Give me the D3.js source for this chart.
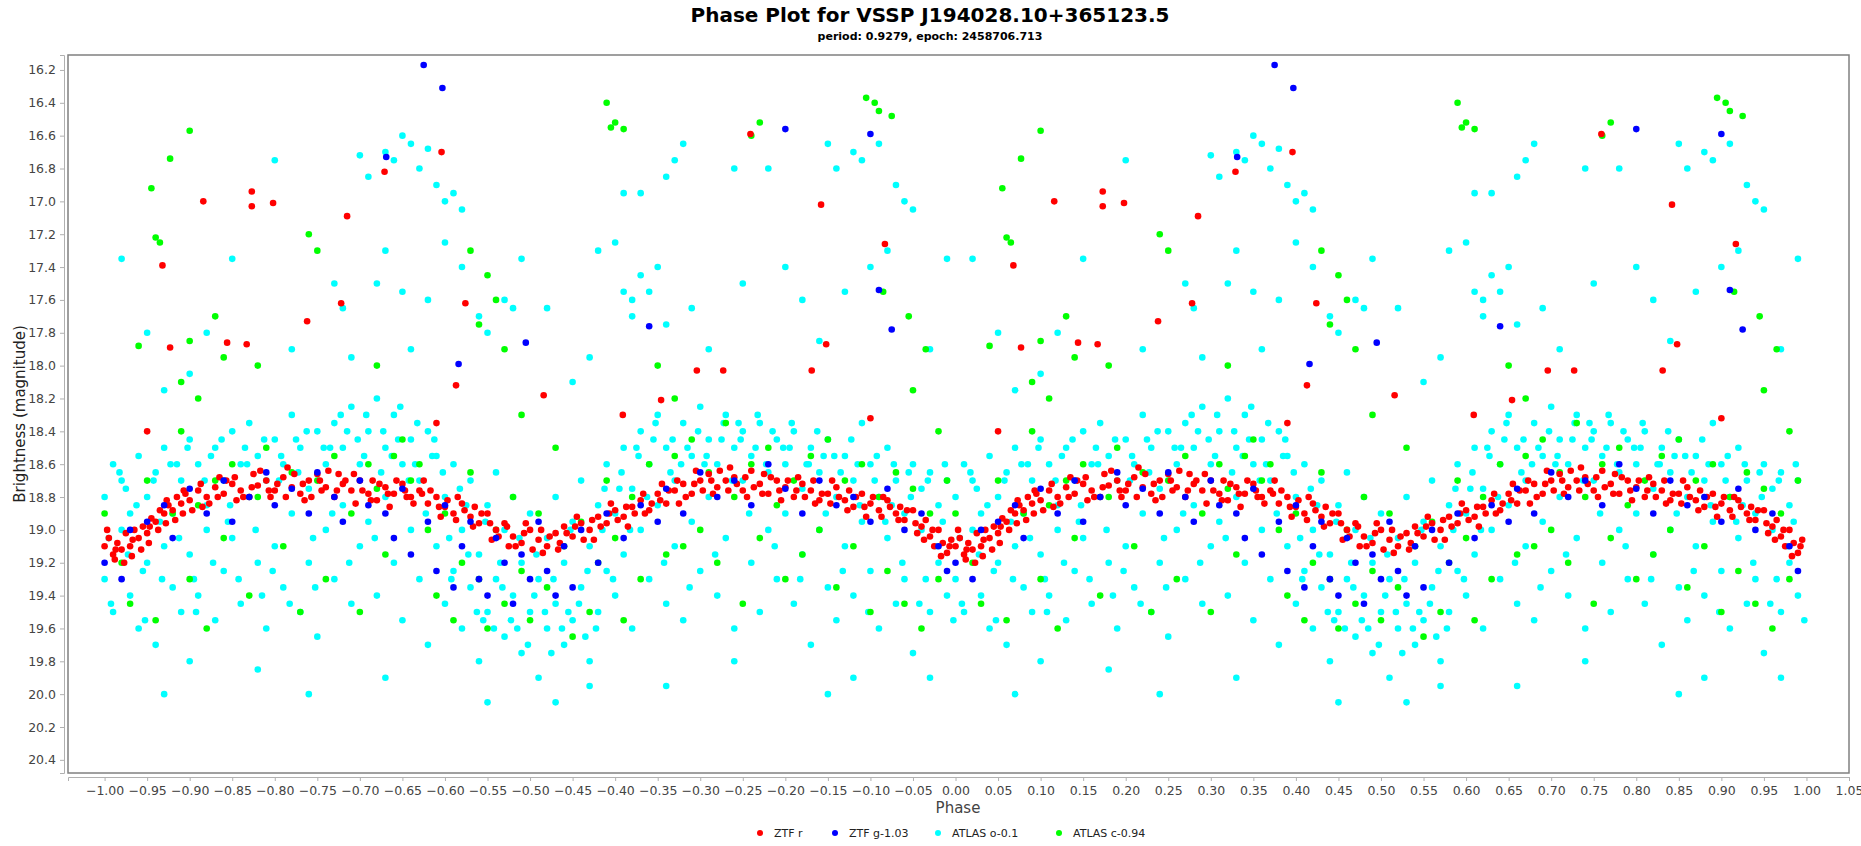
<!DOCTYPE html>
<html>
<head>
<meta charset="utf-8">
<title>Phase Plot</title>
<script src="https://cdn.jsdelivr.net/npm/d3@7"></script>
<style>
  body { margin: 0; background: #fff; }
  text { font-family: "DejaVu Sans", sans-serif; }
</style>
</head>
<body>
<svg id="chart" width="1861" height="846"></svg>
<script>
// phase in [0,1), magnitude; every point is drawn at phase and phase-1
const ztfR = [
  [0.00,19.10],[0.005,19.05],[0.01,19.15],[0.015,19.08],[0.02,19.12],[0.025,19.02],[0.03,19.10],[0.035,19.0],[0.04,19.05],[0.045,18.98],
  [0.05,19.02],[0.055,18.93],[0.06,18.95],[0.065,18.88],[0.07,18.9],[0.075,18.85],[0.08,18.88],[0.085,18.80],[0.09,18.84],[0.095,18.78],
  [0.10,18.82],[0.11,18.76],[0.12,18.80],[0.13,18.74],[0.14,18.78],[0.15,18.72],[0.16,18.76],[0.17,18.80],[0.18,18.73],[0.19,18.70],
  [0.20,18.76],[0.21,18.68],[0.22,18.74],[0.23,18.78],[0.24,18.70],[0.25,18.66],[0.26,18.74],[0.27,18.80],[0.28,18.72],[0.29,18.76],
  [0.30,18.70],[0.31,18.78],[0.32,18.82],[0.33,18.74],[0.34,18.78],[0.35,18.72],[0.36,18.80],[0.37,18.76],[0.38,18.84],[0.39,18.80],
  [0.40,18.86],[0.41,18.90],[0.42,18.84],[0.43,18.92],[0.44,18.96],[0.45,18.90],[0.46,19.0],[0.47,18.96],[0.48,19.04],[0.49,19.08],
  [0.50,19.0],[0.51,19.06],[0.52,19.1],[0.53,19.02],[0.54,18.98],[0.55,19.04],[0.56,18.96],[0.57,19.0],[0.58,18.92],[0.59,18.96],
  [0.60,18.88],[0.61,18.92],[0.62,18.86],[0.63,18.82],[0.64,18.88],[0.65,18.78],[0.66,18.84],[0.67,18.76],[0.68,18.72],[0.69,18.78],
  [0.70,18.70],[0.71,18.66],[0.72,18.74],[0.73,18.70],[0.74,18.68],[0.75,18.76],[0.76,18.64],[0.77,18.72],[0.78,18.78],[0.79,18.70],
  [0.80,18.74],[0.81,18.80],[0.82,18.72],[0.83,18.76],[0.84,18.82],[0.85,18.78],[0.86,18.74],[0.87,18.82],[0.88,18.86],[0.89,18.78],
  [0.90,18.84],[0.91,18.88],[0.92,18.82],[0.93,18.90],[0.94,18.94],[0.95,18.88],[0.96,18.98],[0.97,19.04],[0.975,19.10],[0.98,19.0],
  [0.985,19.08],[0.99,19.14],[0.995,19.06],
  [0.012,19.18],[0.032,19.16],[0.052,19.08],[0.072,18.96],[0.092,18.9],[0.115,18.86],[0.135,18.68],[0.155,18.82],[0.175,18.66],[0.195,18.8],
  [0.215,18.62],[0.235,18.82],[0.255,18.76],[0.275,18.66],[0.295,18.84],[0.315,18.7],[0.335,18.86],[0.355,18.8],[0.375,18.7],[0.395,18.92],
  [0.415,18.8],[0.435,18.86],[0.455,19.06],[0.475,19.1],[0.495,18.96],[0.515,19.14],[0.535,19.08],[0.555,18.92],[0.575,19.06],[0.595,18.84],
  [0.615,18.98],[0.635,18.9],[0.655,18.72],[0.675,18.84],[0.695,18.64],[0.715,18.78],[0.735,18.62],[0.755,18.8],[0.775,18.66],[0.795,18.82],
  [0.815,18.68],[0.835,18.84],[0.855,18.70],[0.875,18.76],[0.895,18.92],[0.915,18.8],[0.935,18.86],[0.955,19.02],[0.965,18.94],
  [0.003,19.0],[0.013,19.12],[0.023,19.2],[0.033,19.06],[0.043,19.12],[0.053,18.98],[0.063,19.0],[0.073,18.82],[0.083,18.94],[0.093,18.76],
  [0.103,18.88],[0.113,18.72],[0.123,18.84],[0.133,18.8],[0.143,18.7],[0.153,18.68],[0.163,18.8],[0.173,18.74],[0.183,18.64],[0.193,18.76],
  [0.203,18.72],[0.213,18.8],[0.223,18.66],[0.233,18.72],[0.243,18.8],[0.253,18.7],[0.263,18.64],[0.273,18.76],[0.283,18.7],[0.293,18.66],
  [0.303,18.76],[0.313,18.82],[0.323,18.72],[0.333,18.78],[0.343,18.7],[0.353,18.76],[0.363,18.84],[0.373,18.78],[0.383,18.76],[0.393,18.86],
  [0.403,18.82],[0.413,18.94],[0.423,18.88],[0.433,18.98],[0.443,18.9],[0.453,18.96],[0.463,19.04],[0.473,18.98],[0.483,19.1],[0.493,19.02],
  [0.503,19.12],[0.513,19.0],[0.523,19.04],[0.533,19.12],[0.543,19.02],[0.553,18.98],[0.563,19.06],[0.573,18.94],[0.583,18.98],[0.593,18.9],
  [0.603,18.94],[0.613,18.86],[0.623,18.9],[0.633,18.78],[0.643,18.84],[0.653,18.82],[0.663,18.76],[0.673,18.7],[0.683,18.8],[0.693,18.72],
  [0.703,18.76],[0.713,18.7],[0.723,18.64],[0.733,18.76],[0.743,18.72],[0.753,18.68],[0.763,18.74],[0.773,18.78],[0.783,18.68],[0.793,18.76],
  [0.803,18.7],[0.813,18.76],[0.823,18.8],[0.833,18.7],[0.843,18.78],[0.853,18.84],[0.863,18.8],[0.873,18.88],[0.883,18.8],[0.893,18.86],
  [0.903,18.8],[0.913,18.92],[0.923,18.86],[0.933,18.94],[0.943,18.88],[0.953,18.96],[0.963,19.06],[0.973,19.0],[0.983,19.16],[0.993,19.1],
  [0.077,17.89],[0.068,17.39],[0.116,17.0],[0.173,16.94],[0.173,17.03],[0.198,17.01],[0.238,17.73],[0.278,17.62],[0.285,17.09],[0.329,16.82],
  [0.396,16.7],[0.413,18.12],[0.424,17.62],[0.144,17.86],[0.167,17.87],[0.516,18.18],[0.759,16.59],[0.848,17.87],[0.842,17.02],[0.917,17.26],
  [0.9,18.32],[0.831,18.03],[0.727,18.03],[0.696,18.03],[0.654,18.21],[0.609,18.3],[0.05,18.4],[0.39,18.35]
];

const ztfG = [
  [0.00,19.2],[0.02,19.3],[0.03,19.0],[0.05,18.95],[0.07,18.85],[0.08,19.05],[0.10,18.75],[0.12,18.9],[0.14,18.7],[0.15,18.95],
  [0.17,18.8],[0.19,18.65],[0.20,18.85],[0.22,18.75],[0.24,18.9],[0.25,18.65],[0.27,18.8],[0.28,18.95],[0.30,18.7],[0.31,18.85],
  [0.33,18.9],[0.34,19.05],[0.35,18.75],[0.36,19.15],[0.38,18.95],[0.39,19.25],[0.40,18.85],[0.41,19.35],[0.42,19.1],[0.43,18.95],
  [0.44,19.3],[0.45,19.4],[0.46,19.05],[0.47,19.2],[0.48,19.45],[0.49,19.15],[0.50,19.3],[0.51,18.95],[0.52,19.25],[0.53,19.4],
  [0.54,19.1],[0.55,19.35],[0.56,19.0],[0.58,19.2],[0.59,18.9],[0.61,19.05],[0.63,18.85],[0.65,18.95],[0.66,18.75],[0.68,18.9],
  [0.70,18.65],[0.72,18.8],[0.74,18.7],[0.76,18.85],[0.78,18.6],[0.80,18.75],[0.82,18.9],[0.84,18.7],[0.86,18.85],[0.88,18.8],
  [0.90,18.95],[0.92,18.75],[0.94,19.0],[0.96,18.9],[0.98,19.1],[0.99,19.25],
  [0.375,16.17],[0.397,16.31],[0.331,16.73],[0.80,16.56],[0.90,16.59],[0.91,17.54],[0.925,17.78],[0.64,17.76],[0.495,17.86],[0.416,17.99]
];

const atlasO = [
  [0.00,18.8],[0.00,19.3],[0.01,18.6],[0.01,19.5],[0.02,19.0],[0.02,18.7],[0.03,19.4],[0.03,18.9],[0.04,19.6],[0.04,18.55],
  [0.05,19.2],[0.05,18.8],[0.06,19.7],[0.06,18.65],[0.07,19.1],[0.07,18.5],[0.08,19.35],[0.08,18.9],[0.09,18.7],[0.09,19.5],
  [0.10,18.45],[0.10,19.15],[0.11,18.6],[0.11,19.4],[0.12,18.85],[0.12,19.0],[0.13,18.5],[0.13,19.55],[0.14,18.7],[0.14,19.25],
  [0.15,18.4],[0.15,19.05],[0.16,18.6],[0.16,19.45],[0.17,18.8],[0.17,18.35],[0.18,19.2],[0.18,18.55],[0.19,19.6],[0.19,18.7],
  [0.20,18.45],[0.20,19.1],[0.21,18.6],[0.21,19.35],[0.22,18.3],[0.22,18.9],[0.23,19.5],[0.23,18.5],[0.24,18.75],[0.24,19.2],
  [0.25,18.4],[0.25,19.65],[0.26,18.6],[0.26,19.0],[0.27,18.35],[0.27,19.3],[0.28,18.5],[0.28,18.85],[0.29,19.45],[0.29,18.25],
  [0.30,18.6],[0.30,19.1],[0.31,18.4],[0.31,18.95],[0.32,18.2],[0.32,19.4],[0.33,18.5],[0.33,18.8],[0.34,19.2],[0.34,18.3],
  [0.35,18.6],[0.35,19.55],[0.36,18.45],[0.36,19.0],[0.37,18.7],[0.37,19.3],[0.38,18.4],[0.38,19.7],[0.39,18.55],[0.39,19.1],
  [0.40,18.8],[0.40,19.45],[0.41,18.6],[0.41,19.25],[0.42,19.0],[0.42,19.6],[0.43,18.7],[0.43,19.35],[0.44,19.15],[0.44,19.8],
  [0.45,18.85],[0.45,19.5],[0.46,19.3],[0.46,18.65],[0.47,19.65],[0.47,19.0],[0.48,19.4],[0.48,18.8],[0.49,19.75],[0.49,19.2],
  [0.50,19.5],[0.50,18.9],[0.51,19.3],[0.51,19.9],[0.52,19.6],[0.52,19.05],[0.53,18.8],[0.53,19.45],[0.54,19.7],[0.54,19.2],
  [0.55,18.95],[0.55,19.55],[0.56,19.35],[0.56,18.7],[0.57,19.8],[0.57,19.1],[0.58,18.85],[0.58,19.5],[0.59,19.25],[0.59,18.6],
  [0.60,19.4],[0.60,18.9],[0.61,18.5],[0.61,19.15],[0.62,18.75],[0.62,19.6],[0.63,18.4],[0.63,19.0],[0.64,18.6],[0.64,19.3],
  [0.65,18.3],[0.65,18.85],[0.66,19.45],[0.66,18.5],[0.67,18.7],[0.67,19.1],[0.68,18.35],[0.68,19.55],[0.69,18.55],[0.69,18.95],
  [0.70,18.25],[0.70,19.25],[0.71,18.45],[0.71,18.8],[0.72,19.4],[0.72,18.6],[0.73,18.3],[0.73,19.05],[0.74,18.5],[0.74,19.6],
  [0.75,18.7],[0.75,18.4],[0.76,19.2],[0.76,18.55],[0.77,18.35],[0.77,19.5],[0.78,18.65],[0.78,19.0],[0.79,18.45],[0.79,19.3],
  [0.80,18.6],[0.80,18.9],[0.81,19.45],[0.81,18.4],[0.82,18.75],[0.82,19.15],[0.83,18.5],[0.83,19.7],[0.84,18.65],[0.84,19.0],
  [0.85,18.45],[0.85,19.35],[0.86,18.8],[0.86,19.55],[0.87,18.55],[0.87,19.1],[0.88,18.7],[0.88,19.4],[0.89,18.35],[0.89,18.95],
  [0.90,18.6],[0.90,19.25],[0.91,18.8],[0.91,19.6],[0.92,18.5],[0.92,19.05],[0.93,18.7],[0.93,19.45],[0.94,18.9],[0.94,19.3],
  [0.95,18.6],[0.95,19.75],[0.96,19.0],[0.96,18.75],[0.97,19.5],[0.97,18.65],[0.98,19.2],[0.98,18.85],[0.99,19.4],[0.99,18.7],
  [0.005,19.05],[0.025,18.75],[0.045,19.25],[0.065,18.95],[0.085,18.6],[0.105,19.3],[0.125,18.55],[0.145,18.95],[0.165,18.5],[0.185,19.4],
  [0.205,18.7],[0.225,18.45],[0.245,19.05],[0.265,18.5],[0.285,18.4],[0.305,18.55],[0.325,18.65],[0.345,18.45],[0.365,18.6],[0.385,18.55],
  [0.405,19.05],[0.425,18.85],[0.445,19.55],[0.465,19.2],[0.485,19.6],[0.505,19.4],[0.525,19.75],[0.545,19.5],[0.565,19.65],[0.585,19.0],
  [0.605,18.75],[0.625,18.5],[0.645,18.45],[0.665,18.65],[0.685,18.5],[0.705,18.6],[0.725,18.45],[0.745,18.35],[0.765,18.5],[0.785,18.4],
  [0.805,18.5],[0.825,18.6],[0.845,18.55],[0.865,18.65],[0.885,18.6],[0.905,18.7],[0.925,18.85],[0.945,18.65],[0.965,19.3],[0.985,18.95],
  [0.0075,19.45],[0.0175,18.65],[0.0275,19.15],[0.0375,18.85],[0.0475,19.55],[0.0575,18.7],[0.0675,19.3],[0.0775,18.6],[0.0875,19.05],[0.0975,18.5],
  [0.1075,19.5],[0.1175,18.7],[0.1275,19.2],[0.1375,18.45],[0.1475,18.85],[0.1575,19.3],[0.1675,18.6],[0.1775,19.0],[0.1875,18.45],[0.1975,19.25],
  [0.2075,18.55],[0.2175,19.45],[0.2275,18.65],[0.2375,18.4],[0.2475,19.35],[0.2575,18.5],[0.2675,18.9],[0.2775,18.3],[0.2875,19.2],[0.2975,18.45],
  [0.3075,18.3],[0.3175,19.05],[0.3275,18.4],[0.3375,18.55],[0.3475,18.25],[0.3575,18.7],[0.3675,18.35],[0.3775,18.9],[0.3875,18.45],[0.3975,18.65],
  [0.4075,19.3],[0.4175,18.75],[0.4275,19.15],[0.4375,19.5],[0.4475,18.95],[0.4575,19.6],[0.4675,19.35],[0.4775,19.55],[0.4875,19.05],[0.4975,19.7],
  [0.5075,19.15],[0.5175,19.5],[0.5275,19.3],[0.5375,19.6],[0.5475,19.0],[0.5575,19.45],[0.5675,19.25],[0.5775,19.6],[0.5875,18.75],[0.5975,19.3],
  [0.6075,18.65],[0.6175,19.0],[0.6275,18.55],[0.6375,18.8],[0.6475,18.35],[0.6575,19.2],[0.6675,18.45],[0.6775,18.6],[0.6875,19.35],[0.6975,18.4],
  [0.7075,18.55],[0.7175,19.15],[0.7275,18.35],[0.7375,18.7],[0.7475,18.45],[0.7575,18.9],[0.7675,18.3],[0.7775,18.6],[0.7875,19.1],[0.7975,18.5],
  [0.8075,18.35],[0.8175,19.3],[0.8275,18.6],[0.8375,18.4],[0.8475,18.9],[0.8575,18.55],[0.8675,19.25],[0.8775,18.45],[0.8875,18.85],[0.8975,19.5],
  [0.9075,18.55],[0.9175,18.95],[0.9275,18.6],[0.9375,19.2],[0.9475,18.8],[0.9575,19.45],[0.9675,18.7],[0.9775,19.1],[0.9875,18.6],[0.9975,19.55],
  [0.33,16.7],[0.34,16.75],[0.31,16.85],[0.30,16.72],[0.36,16.65],[0.37,16.8],[0.38,16.68],[0.39,16.9],[0.40,17.0],[0.41,16.95],
  [0.42,17.05],[0.35,16.6],[0.32,17.5],[0.35,17.55],[0.28,17.65],[0.27,17.5],[0.33,17.3],[0.38,17.6],[0.42,17.4],[0.44,17.7],
  [0.29,17.95],[0.36,17.9],[0.40,17.25],[0.45,17.8],[0.48,17.65],[0.20,16.75],[0.22,17.9],[0.15,17.35],[0.12,17.8],[0.10,18.05],
  [0.05,17.8],[0.07,18.15],[0.02,17.35],[0.58,17.3],[0.60,17.25],[0.61,17.55],[0.62,17.6],[0.63,17.45],[0.64,17.55],[0.65,17.4],
  [0.62,17.7],[0.61,16.95],[0.63,16.95],[0.66,16.85],[0.67,16.75],[0.68,16.65],[0.66,17.75],[0.69,17.65],[0.71,17.9],[0.74,16.8],
  [0.78,16.8],[0.80,17.4],[0.82,17.6],[0.85,16.65],[0.86,16.8],[0.88,16.7],[0.89,16.75],[0.91,16.65],[0.93,16.9],[0.94,17.0],
  [0.95,17.05],[0.92,17.3],[0.90,17.4],[0.87,17.55],[0.84,17.85],[0.97,17.9],[0.99,17.35],[0.52,17.65],[0.55,18.1],[0.57,17.95],
  [0.75,17.5],[0.49,17.35],[0.47,17.6],
  [0.07,20.0],[0.24,20.0],[0.33,19.9],[0.45,20.05],[0.53,20.05],[0.57,19.95],[0.66,19.95],[0.85,20.0],[0.88,19.9],[0.74,19.8],
  [0.18,19.85],[0.10,19.8],[0.97,19.9]
];

const atlasC = [
  [0.00,18.9],[0.02,19.2],[0.03,19.45],[0.05,18.7],[0.06,19.55],[0.08,18.9],[0.09,18.4],[0.10,19.3],[0.11,18.85],[0.12,19.6],
  [0.13,18.7],[0.14,19.05],[0.15,18.6],[0.17,19.4],[0.18,18.8],[0.19,18.5],[0.21,19.1],[0.22,18.65],[0.23,19.5],[0.25,18.7],
  [0.26,19.3],[0.27,18.55],[0.29,18.9],[0.30,19.5],[0.31,18.6],[0.32,18.75],[0.33,19.15],[0.34,18.55],[0.35,18.45],[0.36,18.7],
  [0.37,18.6],[0.38,19.0],[0.39,19.4],[0.40,18.9],[0.41,19.55],[0.42,19.2],[0.43,18.65],[0.44,19.3],[0.45,19.6],[0.46,19.0],
  [0.47,19.45],[0.48,18.8],[0.49,19.25],[0.50,19.55],[0.51,18.9],[0.52,19.35],[0.54,19.1],[0.55,19.65],[0.56,18.95],[0.57,19.5],
  [0.58,19.2],[0.59,18.7],[0.60,19.05],[0.61,19.55],[0.62,18.8],[0.63,19.3],[0.64,18.6],[0.66,19.15],[0.67,18.55],[0.68,19.1],
  [0.69,18.45],[0.70,19.0],[0.71,18.65],[0.72,19.2],[0.73,18.35],[0.74,18.8],[0.75,19.45],[0.76,18.6],[0.77,19.05],[0.78,18.5],
  [0.79,18.85],[0.80,19.3],[0.81,18.7],[0.82,19.15],[0.83,18.55],[0.84,19.0],[0.85,18.45],[0.86,19.35],[0.87,18.7],[0.88,19.1],
  [0.89,18.6],[0.90,19.5],[0.91,18.8],[0.92,19.25],[0.93,18.65],[0.94,19.45],[0.95,18.75],[0.96,19.6],[0.97,18.9],[0.98,19.3],
  [0.99,18.7],
  [0.10,16.57],[0.077,16.74],[0.055,16.92],[0.06,17.22],[0.065,17.25],[0.04,17.88],[0.09,18.1],[0.10,17.85],[0.11,18.2],[0.13,17.7],
  [0.14,17.95],[0.24,17.2],[0.25,17.3],[0.32,18.0],[0.43,17.3],[0.45,17.45],[0.46,17.6],[0.44,17.75],[0.47,17.9],[0.49,18.3],
  [0.59,16.4],[0.595,16.55],[0.60,16.52],[0.61,16.56],[0.77,16.52],[0.76,16.6],[0.895,16.37],[0.905,16.4],[0.91,16.45],[0.925,16.48],
  [0.915,17.55],[0.945,17.7],[0.965,17.9],[0.95,18.15],[0.98,18.4],[0.65,18.0],[0.67,18.2],[0.53,18.5],[0.18,18.0]
];

const series = [
  { name: 'ATLAS o-0.1', color: '#00ffff', data: atlasO },
  { name: 'ATLAS c-0.94', color: '#00ff00', data: atlasC },
  { name: 'ZTF r', color: '#ff0000', data: ztfR },
  { name: 'ZTF g-1.03', color: '#0000ff', data: ztfG }
];
const legendOrder = ['ZTF r', 'ZTF g-1.03', 'ATLAS o-0.1', 'ATLAS c-0.94'];
const yTicks = d3.range(16.2, 20.41, 0.2);
const xTicks = d3.range(-1.0, 1.051, 0.05);

const svg = d3.select('#chart');
const mLeft = 68, mRight = 1849, mTop = 55, mBottom = 773;

const x = d3.scaleLinear().domain([-1.043, 1.05]).range([mLeft, mRight]);
const y = d3.scaleLinear().domain([16.109, 20.48]).range([mTop, mBottom]);

svg.append('text').attr('x', 930).attr('y', 22).attr('text-anchor', 'middle')
  .attr('font-size', 20).attr('font-weight', 'bold').text('Phase Plot for VSSP J194028.10+365123.5');
svg.append('text').attr('x', 930).attr('y', 40).attr('text-anchor', 'middle')
  .attr('font-size', 11).attr('font-weight', 'bold').text('period: 0.9279, epoch: 2458706.713');

const yAxis = svg.append('g').attr('transform', `translate(${mLeft - 4},0)`)
  .call(d3.axisLeft(y).tickValues(yTicks).tickFormat(d3.format('.1f')).tickSize(4).tickPadding(4));
const xAxis = svg.append('g').attr('transform', `translate(0,${mBottom + 4})`)
  .call(d3.axisBottom(x).tickValues(xTicks).tickFormat(d3.format('.2f')).tickSize(4).tickPadding(5));
[yAxis, xAxis].forEach(a => {
  a.selectAll('path, line').attr('stroke', '#b0b0b0');
  a.selectAll('text').attr('fill', '#444').attr('font-size', 12.5);
});

svg.append('rect').attr('x', mLeft).attr('y', mTop).attr('width', mRight - mLeft).attr('height', mBottom - mTop)
  .attr('fill', 'none').attr('stroke', '#808080').attr('stroke-width', 1.5);

const plot = svg.append('g');
series.forEach(s => {
  const pts = [];
  s.data.forEach(d => { pts.push([d[0], d[1]]); pts.push([d[0] - 1, d[1]]); });
  plot.selectAll(null).data(pts).enter().append('circle')
    .attr('cx', d => x(d[0])).attr('cy', d => y(d[1])).attr('r', 3.3)
    .attr('fill', s.color);
});

svg.append('text').attr('x', 958).attr('y', 813).attr('text-anchor', 'middle')
  .attr('font-size', 15).attr('fill', '#444').text('Phase');
svg.append('text').attr('transform', 'translate(25,414) rotate(-90)').attr('text-anchor', 'middle')
  .attr('font-size', 15).attr('fill', '#222').text('Brightness (magnitude)');

const legendX = [760, 835, 938, 1059];
legendOrder.forEach((n, i) => {
  const s = series.find(d => d.name === n);
  svg.append('circle').attr('cx', legendX[i]).attr('cy', 833).attr('r', 3).attr('fill', s.color);
  svg.append('text').attr('x', legendX[i] + 14).attr('y', 837).attr('font-size', 11).attr('fill', '#222').text(n);
});
</script>
</body>
</html>
